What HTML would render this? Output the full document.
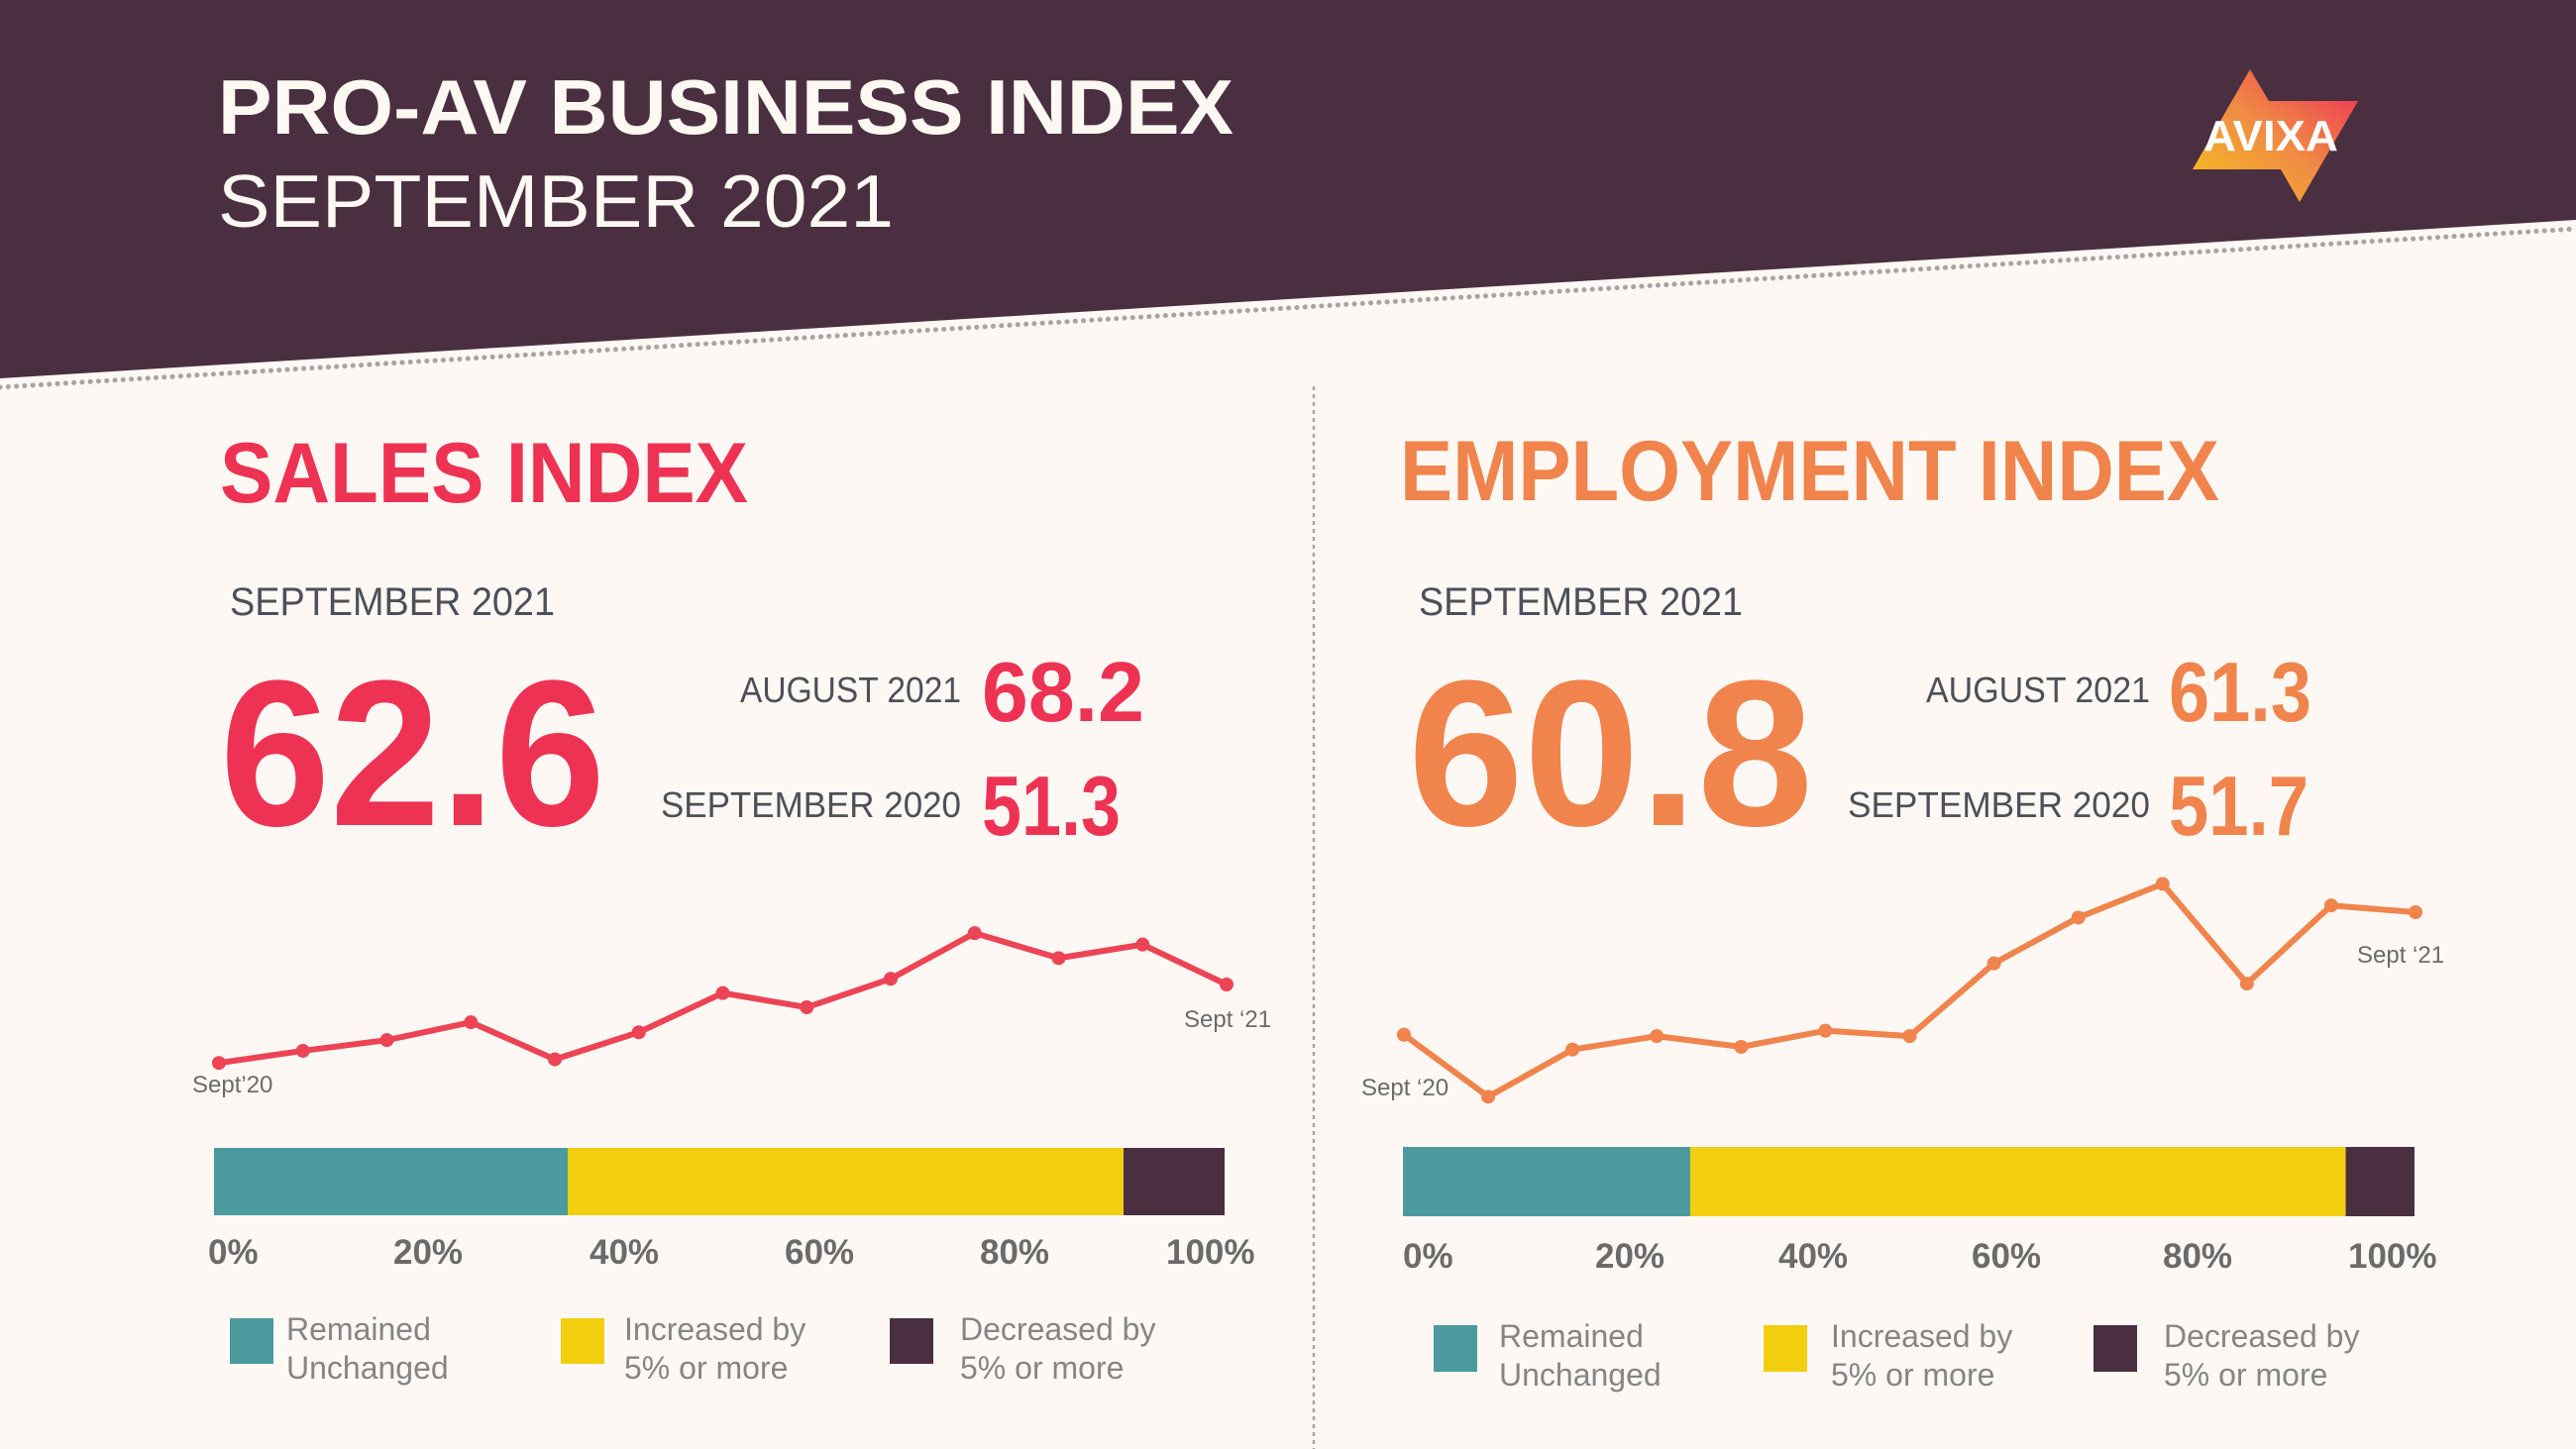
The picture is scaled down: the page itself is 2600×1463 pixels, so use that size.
<!DOCTYPE html>
<html><head><meta charset="utf-8">
<style>
html,body{margin:0;padding:0;background:#fdf8f4;}
svg{display:block;font-family:"Liberation Sans",sans-serif;}
</style></head>
<body>
<svg id="root" width="2600" height="1463" viewBox="0 0 2600 1463">
<defs>
<linearGradient id="lg" x1="0" y1="1" x2="1" y2="0">
<stop offset="0" stop-color="#f6c21c"/><stop offset="0.5" stop-color="#f08a45"/><stop offset="1" stop-color="#ec2d55"/>
</linearGradient>
</defs>
<rect x="0" y="0" width="2600" height="1463" fill="#fdf8f4"/>
<polygon points="0,0 2600,0 2600,222 0,382" fill="#4a2f41"/>
<line x1="0" y1="391" x2="2600" y2="231" stroke="#a8a4a4" stroke-width="5" stroke-dasharray="0.1 8.2" stroke-linecap="round"/>
<text x="220" y="135" font-size="78" font-weight="bold" fill="#fdf8f2" textLength="1025" lengthAdjust="spacingAndGlyphs">PRO-AV BUSINESS INDEX</text>
<text x="220" y="229" font-size="75" fill="#fdf8f2" textLength="682" lengthAdjust="spacingAndGlyphs">SEPTEMBER 2021</text>
<g>
<polygon points="2271,70 2290,102 2380,102 2321,204 2302,171 2213,171" fill="url(#lg)"/>
<text x="2224" y="152" font-size="44" font-weight="bold" fill="#fff" textLength="136" lengthAdjust="spacingAndGlyphs">AVIXA</text>
</g>
<line x1="1326" y1="390" x2="1326" y2="1463" stroke="#a8a4a4" stroke-width="2.5" stroke-dasharray="4 4"/>

<!-- Sales panel -->
<text x="222" y="507" font-size="86" font-weight="bold" fill="#ee3253" textLength="533" lengthAdjust="spacingAndGlyphs">SALES INDEX</text>
<text x="232" y="621" font-size="40" fill="#4d5058" textLength="328" lengthAdjust="spacingAndGlyphs">SEPTEMBER 2021</text>
<text x="222" y="833" font-size="210" font-weight="bold" fill="#ee3253" textLength="389" lengthAdjust="spacingAndGlyphs">62.6</text>
<text x="747" y="709" font-size="36" fill="#4d5058" textLength="223" lengthAdjust="spacingAndGlyphs">AUGUST 2021</text>
<text x="991" y="728" font-size="85" font-weight="bold" fill="#ee3253" textLength="164" lengthAdjust="spacingAndGlyphs">68.2</text>
<text x="667" y="825" font-size="36" fill="#4d5058" textLength="303" lengthAdjust="spacingAndGlyphs">SEPTEMBER 2020</text>
<text x="991" y="843" font-size="85" font-weight="bold" fill="#ee3253" textLength="140" lengthAdjust="spacingAndGlyphs">51.3</text>

<!-- Employment panel -->
<text x="1413" y="505" font-size="86" font-weight="bold" fill="#f0844c" textLength="827" lengthAdjust="spacingAndGlyphs">EMPLOYMENT INDEX</text>
<text x="1432" y="621" font-size="40" fill="#4d5058" textLength="327" lengthAdjust="spacingAndGlyphs">SEPTEMBER 2021</text>
<text x="1421" y="833" font-size="210" font-weight="bold" fill="#f0844c" textLength="409" lengthAdjust="spacingAndGlyphs">60.8</text>
<text x="1944" y="709" font-size="36" fill="#4d5058" textLength="226" lengthAdjust="spacingAndGlyphs">AUGUST 2021</text>
<text x="2189" y="728" font-size="85" font-weight="bold" fill="#f0844c" textLength="144" lengthAdjust="spacingAndGlyphs">61.3</text>
<text x="1865" y="825" font-size="36" fill="#4d5058" textLength="305" lengthAdjust="spacingAndGlyphs">SEPTEMBER 2020</text>
<text x="2189" y="843" font-size="85" font-weight="bold" fill="#f0844c" textLength="141" lengthAdjust="spacingAndGlyphs">51.7</text>

<g id="charts"></g>
</svg>
<script>
// Sales trend (Sept '20 .. Sept '21)
var salesMonths = ["Sep20","Oct20","Nov20","Dec20","Jan21","Feb21","Mar21","Apr21","May21","Jun21","Jul21","Aug21","Sep21"];
var salesValues = [51.6, 53.3, 54.8, 57.3, 52.1, 55.9, 61.4, 59.4, 63.4, 69.8, 66.3, 68.2, 62.6];
var salesShares = [35, 55, 10];
// Employment trend
var empMonths = ["Sep20","Oct20","Nov20","Dec20","Jan21","Feb21","Mar21","Apr21","May21","Jun21","Jul21","Aug21","Sep21"];
var empValues = [51.7, 47.1, 50.6, 51.6, 50.8, 52.0, 51.6, 57.0, 60.4, 62.9, 55.5, 61.3, 60.8];
var empShares = [28.4, 64.8, 6.8];
var tickLabels = ["0%","20%","40%","60%","80%","100%"];
var legendLine1 = ["Remained","Increased by","Decreased by"];
var legendLine2 = ["Unchanged","5% or more","5% or more"];

var NS = "http://www.w3.org/2000/svg";
var root = document.getElementById("charts");
function mk(tag, attrs, parent){
  var e = document.createElementNS(NS, tag);
  for (var k in attrs) e.setAttribute(k, attrs[k]);
  (parent||root).appendChild(e);
  return e;
}
var segColors = ["#4a9a9e","#f3ce0e","#4a2f41"];

function drawPanel(cfg){
  var g = mk("g", {});
  
  
  var n = cfg.values.length;
  function xS(i){ return cfg.x0 + (cfg.x1 - cfg.x0) * i / (n - 1); }
  function yS(v){ return cfg.yRef - (v - cfg.vRef) * cfg.k; }
  var pts = cfg.values.map(function(v,i){ return xS(i) + "," + yS(v); }).join(" ");
  var line = mk("polyline", {points: pts, fill: "none", stroke: cfg.color, "stroke-width": 6, "stroke-linejoin": "round"}, g);
  
  
  cfg.values.forEach(function(v,i){
    var c = mk("circle", {cx: xS(i), cy: yS(v), r: 7, fill: cfg.color}, g);
    
    
  });
  var l1 = mk("text", {x: cfg.startLbl[0], y: cfg.startLbl[1], "font-size": 24, fill: "#6b6b6b"}, g);
  l1.textContent = cfg.startText;
  
  
  var l2 = mk("text", {x: cfg.endLbl[0], y: cfg.endLbl[1], "font-size": 24, fill: "#6b6b6b"}, g);
  l2.textContent = "Sept \u201821";
  
  

  // stacked bar
  var total = cfg.shares.reduce(function(a,b){return a+b;},0);
  var bw = cfg.bx1 - cfg.bx0, acc = 0;
  var segNames = ["remained-unchanged","increased","decreased"];
  cfg.shares.forEach(function(s,i){
    var r = mk("rect", {x: cfg.bx0 + bw*acc/total, y: cfg.by, width: bw*s/total, height: cfg.bh, fill: segColors[i]}, g);
    
    
    acc += s;
  });
  tickLabels.forEach(function(t,i){
    var tx = mk("text", {x: cfg.tickX[i], y: cfg.tickY, "font-size": 35, fill: "#6b6b6b", "font-weight": "bold"}, g);
    tx.textContent = t;
    
    
  });
  // legend
  for (var i = 0; i < 3; i++){
    var sw = mk("rect", {x: cfg.legX[i], y: cfg.legY, width: 44, height: cfg.legH, fill: segColors[i]}, g);
    
    
    var t1 = mk("text", {x: cfg.legTX[i], y: cfg.legY + 22, "font-size": 32, fill: "#858585"}, g);
    t1.textContent = legendLine1[i];
    
    
    var t2 = mk("text", {x: cfg.legTX[i], y: cfg.legY + 61, "font-size": 32, fill: "#858585"}, g);
    t2.textContent = legendLine2[i];
    
    
  }
}

drawPanel({name:"sales", color:"#ec4455", values: salesValues, months: salesMonths, shares: salesShares,
  x0:221, x1:1238, yRef:994, vRef:62.6, k:7.2,
  startText:"Sept\u201920", startLbl:[194,1103], endLbl:[1195,1037],
  bx0:216, bx1:1236, by:1159, bh:68,
  tickX:[210,397,595,792,989,1177], tickY:1276,
  legX:[232,566,898], legTX:[289,630,969], legY:1331, legH:46});

drawPanel({name:"employment", color:"#f0844c", values: empValues, months: empMonths, shares: empShares,
  x0:1417, x1:2438, yRef:921, vRef:60.8, k:13.6,
  startText:"Sept \u201820", startLbl:[1374,1106], endLbl:[2379,972],
  bx0:1416, bx1:2437, by:1158, bh:70,
  tickX:[1416,1610,1795,1990,2183,2370], tickY:1280,
  legX:[1447,1780,2113], legTX:[1513,1848,2184], legY:1338, legH:47});
</script>
</body></html>
